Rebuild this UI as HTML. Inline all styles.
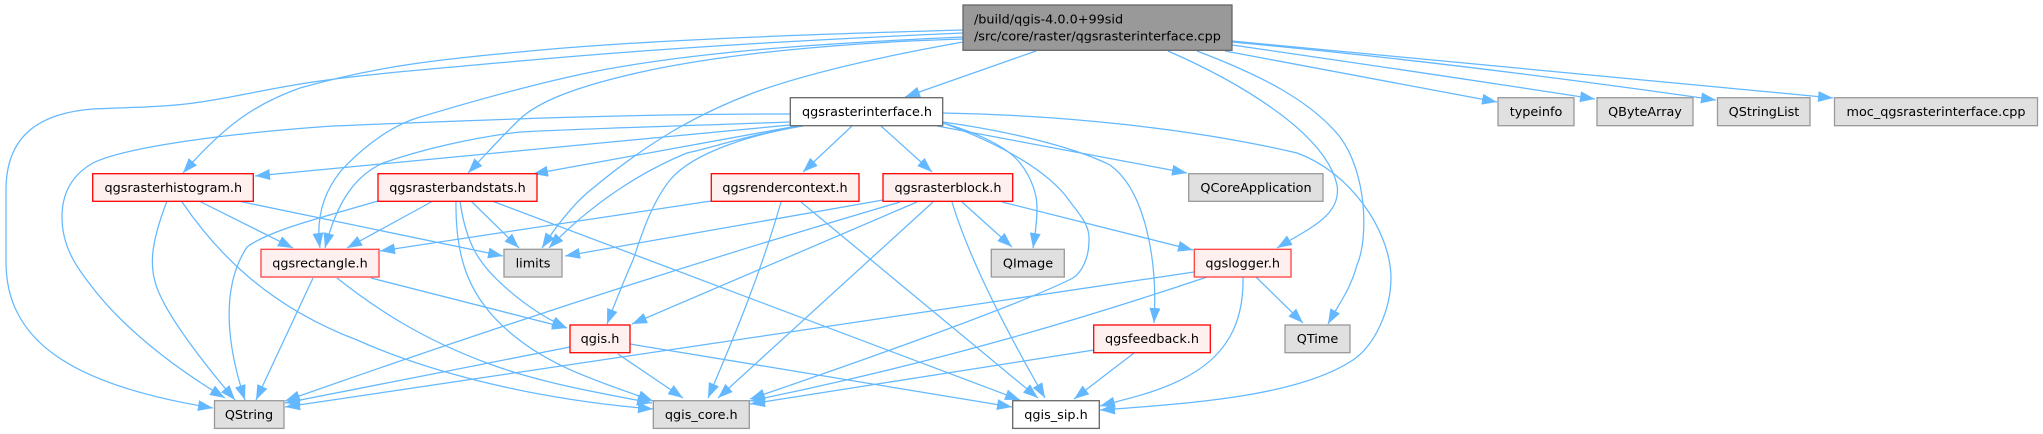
<!DOCTYPE html>
<html><head><meta charset="utf-8"><title>Include dependency graph</title>
<style>html,body{margin:0;padding:0;background:#fff;width:2043px;height:434px;overflow:hidden}svg{display:block}
text{font-family:"DejaVu Sans",sans-serif;font-size:12.8px;fill:#000;text-anchor:middle}
.e path{fill:none;stroke:#63b8ff;stroke-width:1.25;marker-end:url(#a)}
.g{fill:#e0e0e0;stroke:#999;stroke-width:1.3}.r{fill:#fff0f0;stroke:#f00;stroke-width:1.3}.o{fill:#fff0f0;stroke:#ff4040;stroke-width:1.3}.w{fill:#fff;stroke:#666;stroke-width:1.3}</style></head>
<body><svg width="2043" height="434" viewBox="0 0 2043 434" xmlns="http://www.w3.org/2000/svg">
<defs><marker id="a" markerUnits="userSpaceOnUse" markerWidth="16" markerHeight="12" refX="15" refY="5.5" orient="auto"><path d="M0,0 L15,5.5 L0,11 Z" fill="#63b8ff"/></marker></defs>
<g class="e">
<path d="M963,30 C820,34 640,40 520,52 C430,60 370,68 300,88 C255,104 225,125 183,173"/>
<path d="M963,33 C800,40 640,50 520,61 C440,68 370,74 320,81 C270,88 235,97 213,100 C170,108 130,107 93,109 C40,113 6,135 6,190 L6,262 C6,340 70,385 213,408"/>
<path d="M963,37 C850,42 700,50 587,73 C530,85 470,102 417,118 C385,128 355,155 340,172 C322,195 316,220 320,248"/>
<path d="M963,39 C860,42 720,52 620,77 C580,87 540,100 520,119 C500,138 490,150 468,173"/>
<path d="M963,42 C890,55 810,72 753,93 C700,113 650,140 587,193 C570,208 555,228 542,248"/>
<path d="M1036,51 L905,97"/>
<path d="M1168,51 C1230,78 1325,130 1337,185 C1342,215 1310,228 1277,248"/>
<path d="M1197,51 C1260,75 1310,100 1340,137 C1368,175 1368,240 1357,265 C1350,290 1340,302 1328,324"/>
<path d="M1225,51 L1497,102"/>
<path d="M1232,45 Q1420,72 1595,99"/>
<path d="M1232,42 Q1450,62 1716,100"/>
<path d="M1232,41 Q1500,66 1833,98"/>
<path d="M790,114 C620,114 480,120 333,126 C230,133 125,147 93,163 C70,176 62,195 62,217 C62,245 75,265 89,283 C120,325 170,365 225,398"/>
<path d="M790,122 C680,126 600,128 520,132 C470,138 420,150 383,163 C350,178 335,210 325,248"/>
<path d="M790,125 L255,176"/>
<path d="M797,126 L533,174"/>
<path d="M800,126 C750,135 710,148 687,153 C640,172 590,205 549,248"/>
<path d="M803,126 C760,133 695,150 670,180 C650,205 640,240 633,260 C622,285 615,303 607,324"/>
<path d="M852,126 L803,172"/>
<path d="M881,126 L932,172"/>
<path d="M937,126 L1187,173"/>
<path d="M943,123 C985,135 1010,150 1020,163 C1032,178 1037,195 1037,207 C1037,222 1035,235 1033,248"/>
<path d="M943,123 C990,140 1040,165 1065,195 C1080,215 1090,225 1089,240 C1089,258 1082,272 1073,278 C1020,305 850,365 750,399"/>
<path d="M943,122 C1000,130 1070,145 1110,165 C1145,190 1158,260 1154,323"/>
<path d="M943,113 C1060,115 1190,128 1297,153 C1350,172 1390,230 1391,277 C1391,310 1375,345 1353,360 C1300,395 1200,403 1100,410"/>
<path d="M167,201 C150,245 148,270 160,295 C172,322 205,365 235,400"/>
<path d="M199,201 L293,248"/>
<path d="M238,201 L503,256"/>
<path d="M182,202 C215,250 265,305 357,340 C420,368 520,398 653,409"/>
<path d="M378,201 C320,218 270,230 247,247 C222,285 225,340 245,400"/>
<path d="M433,201 L347,248"/>
<path d="M471,201 L519,248"/>
<path d="M460,201 C466,245 480,265 505,287 C525,305 545,318 567,328"/>
<path d="M456,201 C455,260 470,300 513,335 C555,370 610,385 653,401"/>
<path d="M492,201 L1020,400"/>
<path d="M313,278 L256,400"/>
<path d="M371,278 L567,328"/>
<path d="M337,278 C380,312 425,340 487,363 C540,383 600,393 652,403"/>
<path d="M570,347 L285,403"/>
<path d="M618,354 L683,398"/>
<path d="M630,344 L1012,407"/>
<path d="M711,201 L380,251"/>
<path d="M781,202 C760,275 735,335 708,398"/>
<path d="M801,202 L1038,398"/>
<path d="M883,200 L565,256"/>
<path d="M917,202 L632,324"/>
<path d="M900,202 Q600,290 285,401"/>
<path d="M933,202 L718,398"/>
<path d="M952,202 C968,255 1000,320 1045,398"/>
<path d="M962,202 L1012,247"/>
<path d="M1002,202 L1193,250"/>
<path d="M1194,272 L285,407"/>
<path d="M1207,277 C1100,313 950,360 750,401"/>
<path d="M1243,277 C1244,325 1225,355 1190,375 C1160,392 1130,398 1100,406"/>
<path d="M1256,277 L1303,323"/>
<path d="M1094,350 L750,404"/>
<path d="M1134,353 L1074,399"/>
</g>
<rect x="963" y="5" width="269" height="45.3" fill="#999" stroke="#666" stroke-width="1.3"/>
<text x="974" y="23.5" style="text-anchor:start">/build/qgis-4.0.0+99sid</text>
<text x="974" y="40.7" style="text-anchor:start">/src/core/raster/qgsrasterinterface.cpp</text>
<rect class="w" x="790.3" y="97.7" width="152.4" height="28"/><text x="867" y="116">qgsrasterinterface.h</text>
<rect class="r" x="92.7" y="173.7" width="160.6" height="27.6"/><text x="173.3" y="191.8">qgsrasterhistogram.h</text>
<rect class="r" x="378" y="173.7" width="159" height="27.6"/><text x="457.5" y="191.8">qgsrasterbandstats.h</text>
<rect class="r" x="711.3" y="173.7" width="147.7" height="27.6"/><text x="785" y="191.8">qgsrendercontext.h</text>
<rect class="r" x="883" y="173.7" width="129.7" height="27.6"/><text x="948" y="191.8">qgsrasterblock.h</text>
<rect class="g" x="1188.7" y="173.7" width="134.3" height="27.6"/><text x="1256" y="191.8">QCoreApplication</text>
<rect class="o" x="261" y="249.3" width="118" height="27.7"/><text x="320" y="267.5">qgsrectangle.h</text>
<rect class="g" x="504" y="249.3" width="58" height="27.7"/><text x="533" y="267.5">limits</text>
<rect class="g" x="991.3" y="249.3" width="73" height="27.7"/><text x="1028" y="267.5">QImage</text>
<rect class="o" x="1194.3" y="249.3" width="96.7" height="27.7"/><text x="1242.7" y="267.5">qgslogger.h</text>
<rect class="r" x="570" y="325" width="60" height="27.7"/><text x="600" y="343.2">qgis.h</text>
<rect class="r" x="1093.7" y="325" width="116.6" height="27.7"/><text x="1152" y="343.2">qgsfeedback.h</text>
<rect class="g" x="1285" y="325" width="65" height="27.7"/><text x="1317.5" y="343.2">QTime</text>
<rect class="g" x="214.5" y="400.7" width="69.5" height="27.7"/><text x="249" y="419">QString</text>
<rect class="g" x="653.3" y="400.7" width="96" height="27.7"/><text x="701.3" y="419">qgis_core.h</text>
<rect class="w" x="1012.7" y="400.7" width="86.6" height="27.7"/><text x="1056" y="419">qgis_sip.h</text>
<rect class="g" x="1498" y="97.7" width="76" height="28"/><text x="1536" y="116">typeinfo</text>
<rect class="g" x="1597" y="97.7" width="96" height="28"/><text x="1645" y="116">QByteArray</text>
<rect class="g" x="1717.5" y="97.7" width="92.5" height="28"/><text x="1764" y="116">QStringList</text>
<rect class="g" x="1834.5" y="97.7" width="203" height="28"/><text x="1936" y="116">moc_qgsrasterinterface.cpp</text>
</svg></body></html>
